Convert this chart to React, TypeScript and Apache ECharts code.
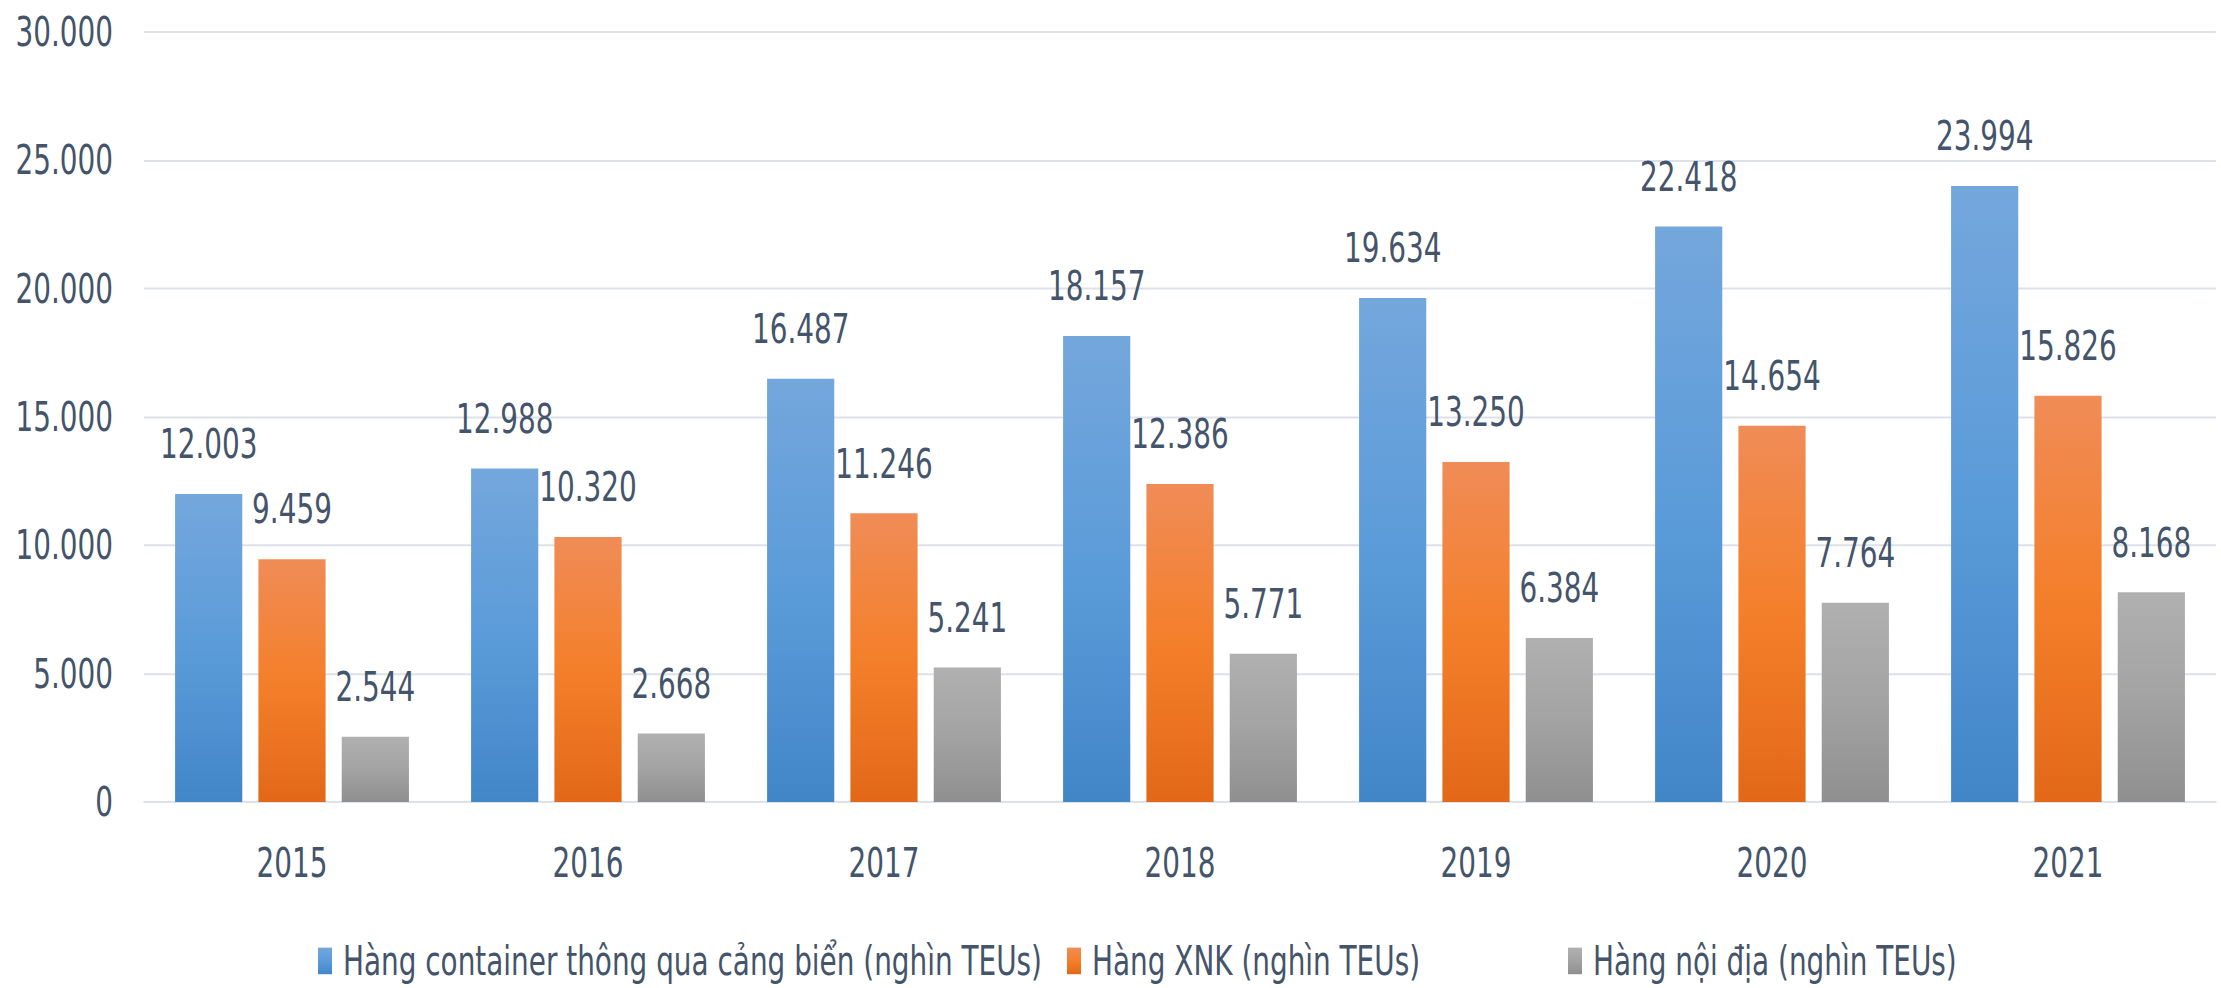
import React, { useEffect, useRef } from "react";
import * as echarts from "echarts";

const years = ["2015", "2016", "2017", "2018", "2019", "2020", "2021"];
const containerValues = [12003, 12988, 16487, 18157, 19634, 22418, 23994];
const xnkValues = [9459, 10320, 11246, 12386, 13250, 14654, 15826];
const noiDiaValues = [2544, 2668, 5241, 5771, 6384, 7764, 8168];
const seriesNames = [
  "Hàng container thông qua cảng biển (nghìn TEUs)",
  "Hàng XNK (nghìn TEUs)",
  "Hàng nội địa (nghìn TEUs)",
];
const legendLefts = [318, 1067, 1568];

const FONT = "'DejaVu Sans Condensed', 'Liberation Sans Narrow', 'DejaVu Sans', sans-serif";
const TEXT = "#44546a";
const FS = 31;
const SCALE_Y = 1.33;
const W = 2221;
const H = Math.round(988 / SCALE_Y);

const fmt = (v: number) =>
  String(Math.round(v)).replace(/\B(?=(\d{3})+(?!\d))/g, ".");

const grad = (top: string, mid: string, bottom: string) =>
  new echarts.graphic.LinearGradient(0, 0, 0, 1, [
    { offset: 0, color: top },
    { offset: 0.5, color: mid },
    { offset: 1, color: bottom },
  ]);

const colorStops = [
  ["#74a7dc", "#5b9bd9", "#4286c8"],
  ["#f08c57", "#f47f2a", "#e26818"],
  ["#b0b0b0", "#a3a3a3", "#8f8f8f"],
];

export default function App() {
  const ref = useRef<HTMLDivElement>(null);
  useEffect(() => {
    if (!ref.current) return;
    const chart = echarts.init(ref.current, null, { renderer: "svg" });
    const label = {
      show: true,
      position: "top",
      distance: 22,
      color: TEXT,
      fontSize: FS,
      fontFamily: FONT,
      formatter: (p: any) => fmt(p.value),
    };
    const allData = [containerValues, xnkValues, noiDiaValues];
    chart.setOption({
      animation: false,
      backgroundColor: "#ffffff",
      grid: {
        left: 144,
        right: 5,
        top: 24,
        bottom: 140,
        containLabel: false,
        outerBoundsMode: "none",
      },
      legend: seriesNames.map((name, i) => ({
        left: legendLefts[i],
        top: H - 36,
        padding: 0,
        itemWidth: 14,
        itemHeight: 20,
        icon: "rect",
        selectedMode: false,
        textStyle: { color: TEXT, fontSize: FS, fontFamily: FONT, padding: [0, 0, 0, 6] },
        data: [{ name, itemStyle: { color: grad(colorStops[i][0], colorStops[i][1], colorStops[i][2]) } }],
      })),
      xAxis: {
        type: "category",
        data: years,
        axisLine: { show: true, lineStyle: { color: "#dde2ea", width: 1.5 } },
        axisTick: { show: false },
        axisLabel: { color: TEXT, fontSize: FS, fontFamily: FONT, margin: 30 },
      },
      yAxis: {
        type: "value",
        min: 0,
        max: 30000,
        interval: 5000,
        axisLine: { show: false },
        axisTick: { show: false },
        splitLine: { lineStyle: { color: "#dde2ea", width: 1.5 } },
        axisLabel: {
          color: TEXT,
          fontSize: FS,
          fontFamily: FONT,
          margin: 31,
          formatter: (v: number) => fmt(v),
        },
      },
      series: seriesNames.map((name, i) => ({
        name,
        type: "bar",
        data: allData[i],
        barGap: "24%",
        barCategoryGap: "21%",
        itemStyle: { color: grad(colorStops[i][0], colorStops[i][1], colorStops[i][2]) },
        label,
        emphasis: { disabled: true },
      })),
    });
    return () => chart.dispose();
  }, []);
  return (
    <div
      style={{ position: "fixed", left: 0, top: 0, width: W, height: 988, background: "#fff", overflow: "hidden" }}
    >
      <div
        ref={ref}
        style={{
          width: W,
          height: H,
          transform: `scaleY(${SCALE_Y})`,
          transformOrigin: "0 0",
        }}
      />
    </div>
  );
}
